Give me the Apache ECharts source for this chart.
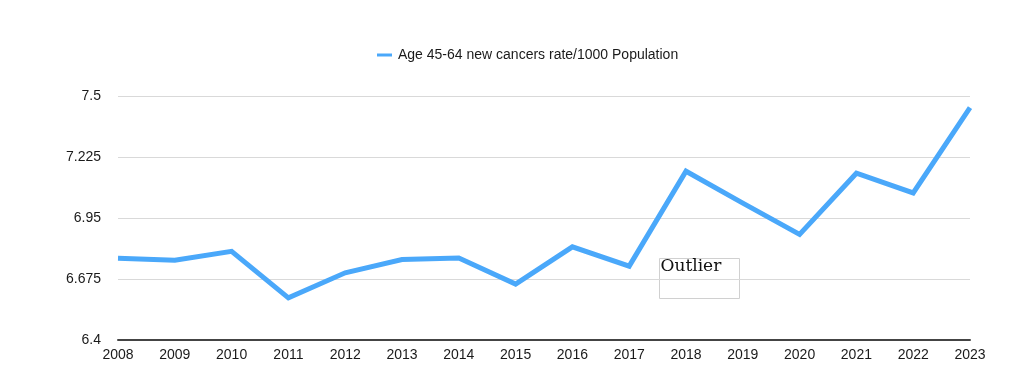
<!DOCTYPE html>
<html>
<head>
<meta charset="utf-8">
<script src="https://cdn.jsdelivr.net/npm/echarts@6/dist/echarts.min.js"></script>
<style>html,body{margin:0;padding:0;background:#fff;}#c{width:1024px;height:381px;}</style>
</head>
<body>
<div id="c"></div>
<script>
const years = ['2008','2009','2010','2011','2012','2013','2014','2015','2016','2017','2018','2019','2020','2021','2022','2023'];
const rates = [6.768, 6.760, 6.800, 6.590, 6.703, 6.763, 6.770, 6.652, 6.820, 6.733, 7.161, 7.017, 6.876, 7.152, 7.063, 7.448];
const seriesName = 'Age 45-64 new cancers rate/1000 Population';
const yTicks = [6.4, 6.675, 6.95, 7.225, 7.5];
const outlierLabel = 'Outlier';

const chart = echarts.init(document.getElementById('c'), null, {renderer: 'canvas'});
chart.setOption({
  animation: false,
  backgroundColor: '#fff',
  legend: {
    top: 43,
    left: 372,
    itemWidth: 15,
    itemHeight: 3,
    itemGap: 8,
    icon: 'rect',
    textStyle: {fontFamily: 'Liberation Sans, Arial, sans-serif', fontSize: 14, color: '#1a1a1a', padding: [0, 0, 0, 1]},
    data: [seriesName]
  },
  grid: {left: 118, right: 54, top: 96, bottom: 41, containLabel: false},
  xAxis: {
    type: 'category',
    data: years,
    boundaryGap: false,
    axisLine: {show: true, lineStyle: {color: '#444', width: 2}},
    axisTick: {show: false},
    axisLabel: {margin: 8, fontFamily: 'Liberation Sans, Arial, sans-serif', fontSize: 14, color: '#1a1a1a', interval: 0},
    splitLine: {show: false}
  },
  yAxis: {
    type: 'value',
    min: yTicks[0],
    max: yTicks[yTicks.length - 1],
    interval: yTicks[1] - yTicks[0],
    axisLine: {show: false},
    axisTick: {show: false},
    axisLabel: {
      margin: 17,
      fontFamily: 'Liberation Sans, Arial, sans-serif', fontSize: 14, color: '#1a1a1a',
      formatter: function (v) {
        let best = yTicks[0];
        yTicks.forEach(t => { if (Math.abs(t - v) < Math.abs(best - v)) best = t; });
        return String(best);
      }
    },
    splitLine: {show: true, lineStyle: {color: '#d9d9d9', width: 1}}
  },
  series: [{
    name: seriesName,
    type: 'line',
    data: rates,
    showSymbol: false,
    symbol: 'none',
    lineStyle: {color: '#4aa8fa', width: 5, join: 'miter'},
    itemStyle: {color: '#4aa8fa'}
  }],
  graphic: [{
    type: 'group',
    left: 659,
    top: 258,
    children: [
      {type: 'rect', shape: {x: 0, y: 0, width: 80, height: 40}, style: {fill: 'rgba(0,0,0,0)', stroke: '#d0d0d0', lineWidth: 1}},
      {type: 'text', left: 1, top: 0, style: {text: outlierLabel, font: '17px "DejaVu Serif", serif', fill: '#111'}}
    ]
  }]
});
</script>
</body>
</html>
